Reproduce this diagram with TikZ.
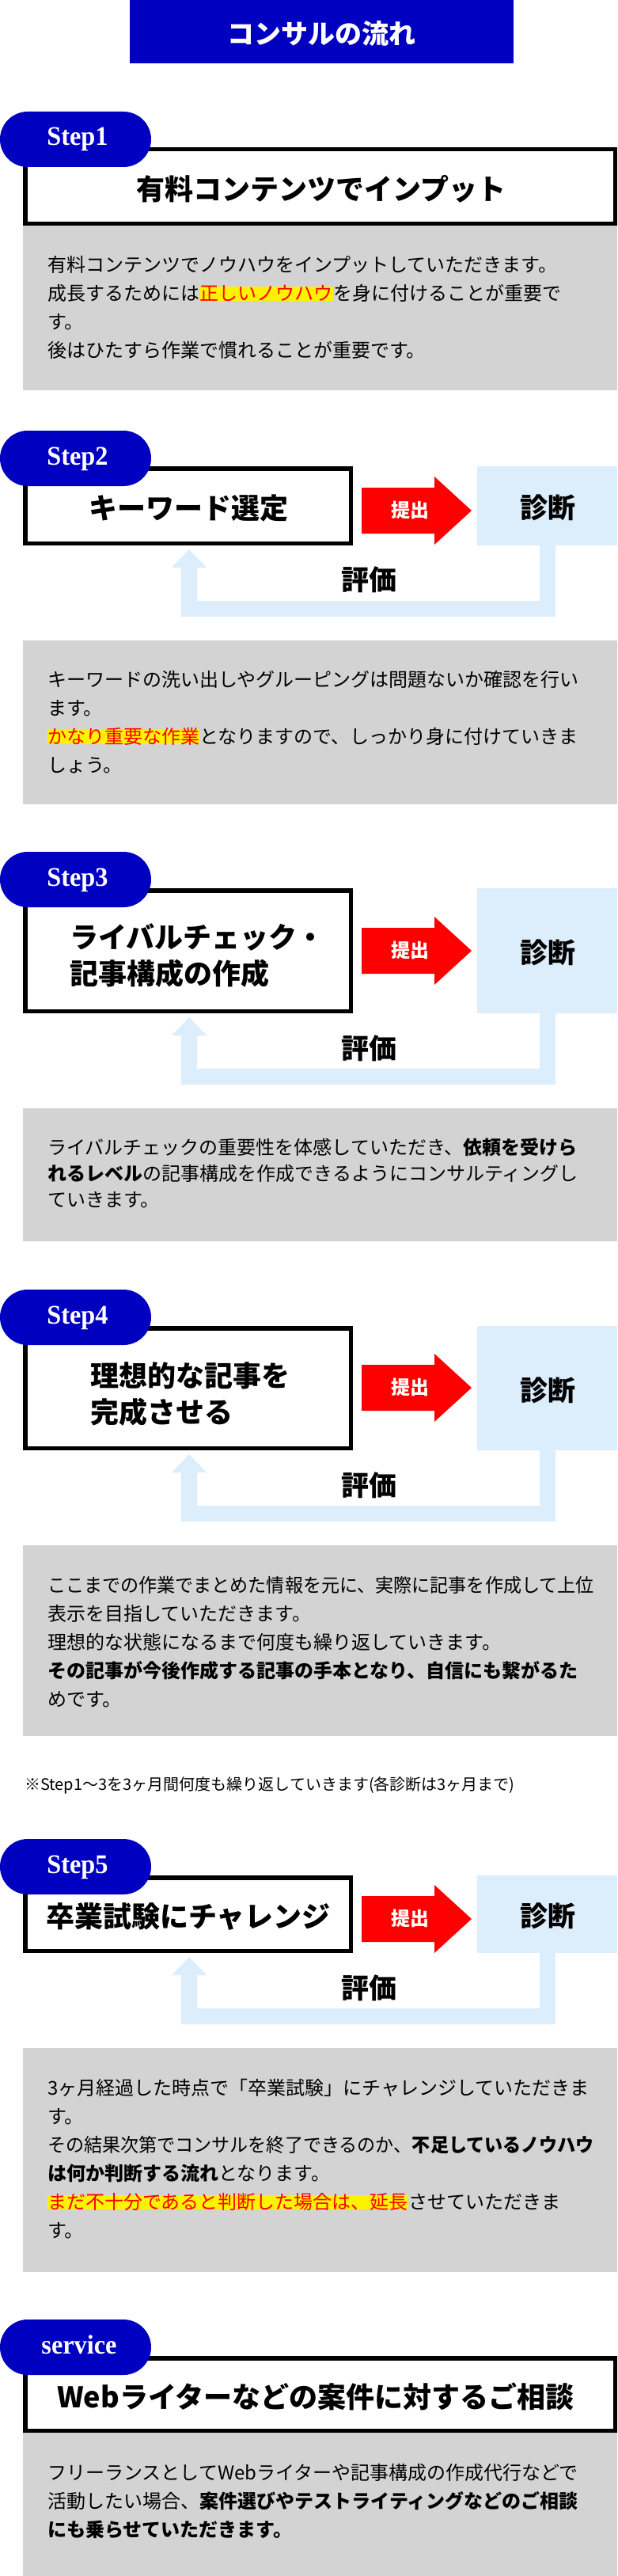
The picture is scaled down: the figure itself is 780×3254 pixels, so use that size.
\documentclass[tikz,border=0pt]{standalone}
\usepackage{fontspec}
\usepackage{graphicx}
\setmainfont{Noto Sans CJK JP}
\newfontfamily\stepfont{Liberation Serif}[FakeStretch=0.95]
\definecolor{blu}{RGB}{0,0,192}
\definecolor{lblue}{RGB}{220,237,251}
\definecolor{gry}{RGB}{211,211,211}
\newcommand\myfs[1]{\fontsize{#1}{#1}\selectfont}
\tikzset{
  pill/.style={fill=blu, rounded corners=35pt, minimum width=191pt, minimum height=70pt, inner sep=0pt},
  pilltext/.style={font=\stepfont\bfseries\myfs{34}, text=white, inner sep=0pt, anchor=base},
  hbox/.style={draw=black, line width=5.5pt, fill=white, inner sep=0pt},
  diag/.style={fill=lblue, inner sep=0pt, minimum width=177pt},
  graybox/.style={fill=gry, inner sep=0pt, minimum width=751pt},
  head/.style={font=\bfseries\myfs{36}, inner sep=0pt, anchor=base},
  headl/.style={font=\bfseries\myfs{36}, inner sep=0pt, anchor=base west},
  bt/.style={font=\myfs{24}, inner sep=0pt, anchor=base west},
  bb/.style={bt, font=\bfseries\myfs{24}},
  hl/.style={bt, fill=yellow, text=red, text height=17pt, text depth=1pt},
  evaltext/.style={font=\bfseries\myfs{35}, inner sep=0pt, anchor=base},
  subm/.style={font=\bfseries\myfs{24}, text=white, inner sep=0pt, anchor=base},
}
\begin{document}
\begin{tikzpicture}[x=1pt,y=-1pt]
\useasboundingbox (0,0) rectangle (780,3254);
\fill[white] (0,0) rectangle (780,3254);
% title
\node[fill=blu, minimum width=485pt, minimum height=80pt, inner sep=0pt] (title) at (406.5,40) {};
\node[font=\bfseries\myfs{34}, text=white, inner sep=0pt, anchor=base] (titletext) at (406,56) {コンサルの流れ};

% ---------- Step 1
\node[graybox, minimum height=208pt] (g1) at (404.5,389) {};
\node[hbox, minimum width=745.5pt, minimum height=93.5pt] (b1) at (404.5,235.5) {};
\node[pill] (p1) at (95.5,176) {};
\node[pilltext] (p1t) at (98,184) {Step1};
\node[head] (h1) at (406,252) {有料コンテンツでインプット};
\node[bt] (t1a) at (60,343) {有料コンテンツでノウハウをインプットしていただきます。};
\node[bt] (t1b) at (60,379) {成長するためには};
\node[hl] (t1c) at (t1b.base east) {正しいノウハウ};
\node[bt] (t1d) at (t1c.base east) {を身に付けることが重要で};
\node[bt] (t1e) at (60,415) {す。};
\node[bt] (t1f) at (60,451) {後はひたすら作業で慣れることが重要です。};

% ---------- Step 2
\node[hbox, minimum width=411.5pt, minimum height=94.5pt] (b2) at (237.5,639) {};
\node[pill] (p2) at (95.5,579) {};
\node[pilltext] (p2t) at (98,587) {Step2};
\node[head] (h2) at (238,655) {キーワード選定};
\fill[red] (457,616) -- (549,616) -- (549,602) -- (596,645) -- (549,688) -- (549,674) -- (457,674) -- cycle;
\node[subm] (s2) at (518,653) {提出};
\node[diag, minimum height=100pt] (d2) at (691.5,639) {};
\node[evaltext] (d2t) at (692,654) {診断};
\fill[lblue] (682,689) -- (702,689) -- (702,779) -- (229,779) -- (229,717) -- (217,717) -- (239,694) -- (261,717) -- (249,717) -- (249,759) -- (682,759) -- cycle;
\node[evaltext] (e2) at (466,745) {評価};
\node[graybox, minimum height=207pt] (g2) at (404.5,912.5) {};
\node[bt] (t2a) at (60,867) {キーワードの洗い出しやグルーピングは問題ないか確認を行い};
\node[bt] (t2b) at (60,903) {ます。};
\node[hl] (t2c) at (60,939) {かなり重要な作業};
\node[bt] (t2d) at (t2c.base east) {となりますので、しっかり身に付けていきま};
\node[bt] (t2e) at (60,975) {しょう。};

% ---------- Step 3
\node[hbox, minimum width=411.5pt, minimum height=152.5pt] (b3) at (237.5,1201) {};
\node[pill] (p3) at (95.5,1111) {};
\node[pilltext] (p3t) at (98,1119) {Step3};
\node[headl] (h3a) at (88,1197) {ライバルチェック・};
\node[headl] (h3b) at (88,1243) {記事構成の作成};
\fill[red] (457,1172) -- (549,1172) -- (549,1158) -- (596,1201) -- (549,1244) -- (549,1230) -- (457,1230) -- cycle;
\node[subm] (s3) at (518,1209) {提出};
\node[diag, minimum height=158pt] (d3) at (691.5,1201) {};
\node[evaltext] (d3t) at (692,1216) {診断};
\fill[lblue] (682,1280) -- (702,1280) -- (702,1370) -- (229,1370) -- (229,1308) -- (217,1308) -- (239,1285) -- (261,1308) -- (249,1308) -- (249,1350) -- (682,1350) -- cycle;
\node[evaltext] (e3) at (466,1337) {評価};
\node[graybox, minimum height=168pt] (g3) at (404.5,1484) {};
\node[bt] (t3a) at (60,1458) {ライバルチェックの重要性を体感していただき、};
\node[bb] (t3b) at (t3a.base east) {依頼を受けら};
\node[bb] (t3c) at (60,1491) {れるレベル};
\node[bt] (t3d) at (t3c.base east) {の記事構成を作成できるようにコンサルティングし};
\node[bt] (t3e) at (60,1524) {ていきます。};

% ---------- Step 4
\node[hbox, minimum width=411.5pt, minimum height=151.5pt] (b4) at (237.5,1753.5) {};
\node[pill] (p4) at (95.5,1664) {};
\node[pilltext] (p4t) at (98,1672) {Step4};
\node[headl] (h4a) at (114,1751) {理想的な記事を};
\node[headl] (h4b) at (114,1797) {完成させる};
\fill[red] (457,1724) -- (549,1724) -- (549,1710) -- (596,1753) -- (549,1796) -- (549,1782) -- (457,1782) -- cycle;
\node[subm] (s4) at (518,1761) {提出};
\node[diag, minimum height=157pt] (d4) at (691.5,1753.5) {};
\node[evaltext] (d4t) at (692,1769) {診断};
\fill[lblue] (682,1832) -- (702,1832) -- (702,1922) -- (229,1922) -- (229,1860) -- (217,1860) -- (239,1837) -- (261,1860) -- (249,1860) -- (249,1902) -- (682,1902) -- cycle;
\node[evaltext] (e4) at (466,1889) {評価};
\node[graybox, minimum height=241pt] (g4) at (404.5,2072.5) {};
\node[bt] (t4a) at (60,2011) {\scalebox{0.961}[1]{ここまでの作業でまとめた情報を元に、実際に記事を作成して上位}};
\node[bt] (t4b) at (60,2047) {表示を目指していただきます。};
\node[bt] (t4c) at (60,2083) {理想的な状態になるまで何度も繰り返していきます。};
\node[bb] (t4d) at (60,2119) {その記事が今後作成する記事の手本となり、自信にも繋がるた};
\node[bt] (t4e) at (60,2155) {めです。};

% note
\node[font=\myfs{20}, inner sep=0pt, anchor=base west] (note) at (31,2261) {※Step1〜3を3ヶ月間何度も繰り返していきます(各診断は3ヶ月まで)};

% ---------- Step 5
\node[hbox, minimum width=411.5pt, minimum height=92.5pt] (b5) at (237.5,2418) {};
\node[pill] (p5) at (95.5,2358) {};
\node[pilltext] (p5t) at (98,2366) {Step5};
\node[head] (h5) at (238,2434) {卒業試験にチャレンジ};
\fill[red] (457,2395) -- (549,2395) -- (549,2381) -- (596,2424) -- (549,2467) -- (549,2453) -- (457,2453) -- cycle;
\node[subm] (s5) at (518,2432) {提出};
\node[diag, minimum height=98pt] (d5) at (691.5,2418) {};
\node[evaltext] (d5t) at (692,2433) {診断};
\fill[lblue] (682,2467) -- (702,2467) -- (702,2557) -- (229,2557) -- (229,2495) -- (217,2495) -- (239,2472) -- (261,2495) -- (249,2495) -- (249,2537) -- (682,2537) -- cycle;
\node[evaltext] (e5) at (466,2524) {評価};
\node[graybox, minimum height=283pt] (g5) at (404.5,2728.5) {};
\node[bt] (t5a) at (60,2646) {3ヶ月経過した時点で「卒業試験」にチャレンジしていただきま};
\node[bt] (t5b) at (60,2682) {す。};
\node[bt] (t5c) at (60,2718) {\scalebox{0.961}[1]{その結果次第でコンサルを終了できるのか、}};
\node[bb] (t5d) at (t5c.base east) {\scalebox{0.961}[1]{不足しているノウハウ}};
\node[bb] (t5e) at (60,2754) {は何か判断する流れ};
\node[bt] (t5f) at (t5e.base east) {となります。};
\node[hl] (t5g) at (60,2790) {まだ不十分であると判断した場合は、延長};
\node[bt] (t5h) at (t5g.base east) {させていただきま};
\node[bt] (t5i) at (60,2826) {す。};

% ---------- service
\node[graybox, minimum height=181pt] (g6) at (404.5,3163.5) {};
\node[hbox, minimum width=745.5pt, minimum height=91.5pt] (b6) at (404.5,3024.5) {};
\node[pill] (p6) at (95.5,2965) {};
\node[pilltext] (p6t) at (100,2973) {service};
\node[head] (h6) at (399,3041) {Webライターなどの案件に対するご相談};
\node[bt] (t6a) at (60,3132) {フリーランスとしてWebライターや記事構成の作成代行などで};
\node[bt] (t6b) at (60,3168) {活動したい場合、};
\node[bb] (t6c) at (t6b.base east) {案件選びやテストライティングなどのご相談};
\node[bb] (t6d) at (60,3204) {にも乗らせていただきます。};
\end{tikzpicture}
\end{document}
